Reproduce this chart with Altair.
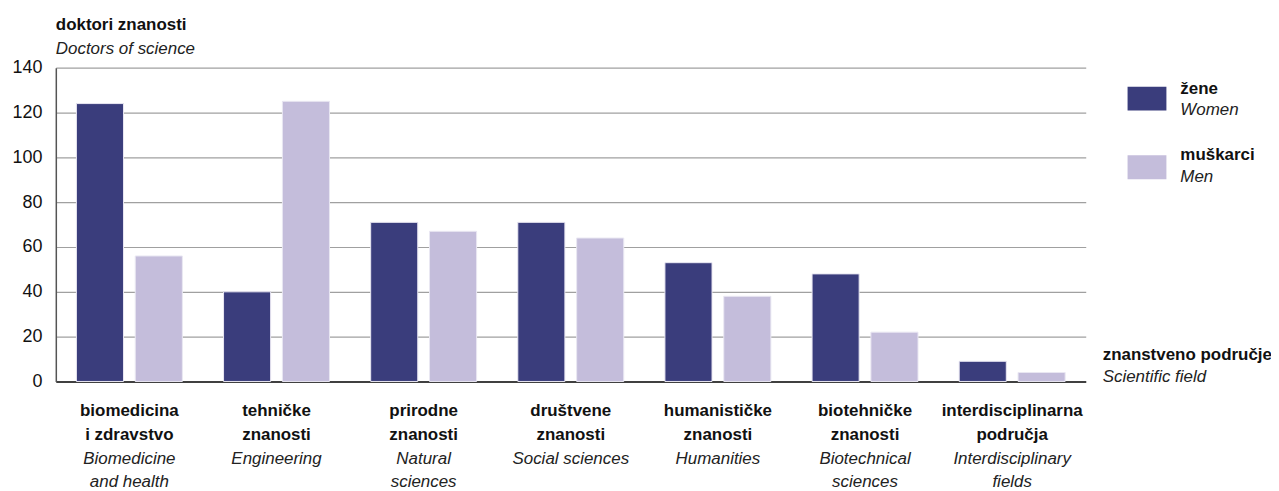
import altair as alt
import pandas as pd

fields_hr1 = ["biomedicina", "tehničke", "prirodne", "društvene", "humanističke", "biotehničke", "interdisciplinarna"]
fields_hr2 = ["i zdravstvo", "znanosti", "znanosti", "znanosti", "znanosti", "znanosti", "područja"]
fields_en1 = ["Biomedicine", "Engineering", "Natural", "Social sciences", "Humanities", "Biotechnical", "Interdisciplinary"]
fields_en2 = ["and health", "", "sciences", "", "", "sciences", "fields"]
women = [124, 40, 71, 71, 53, 48, 9]
men = [56, 125, 67, 64, 38, 22, 4]
series = ["žene", "muškarci"]
series_en = ["Women", "Men"]
colors = ["#3a3d7c", "#c4bddb"]
y_ticks = [0, 20, 40, 60, 80, 100, 120, 140]

keys = [a + " " + b for a, b in zip(fields_hr1, fields_hr2)]

rows = []
for i, k in enumerate(keys):
    rows.append({"field": k, "sex": series[0], "value": women[i]})
    rows.append({"field": k, "sex": series[1], "value": men[i]})
bars_df = pd.DataFrame(rows)

labels_df = pd.DataFrame({"field": keys, "l1": fields_hr1, "l2": fields_hr2, "l3": fields_en1, "l4": fields_en2})

FONT = "Liberation Sans, Arial, sans-serif"
FS = 17

xscale = alt.Scale(domain=keys, paddingInner=0.28, paddingOuter=0.14)

bars = alt.Chart(bars_df).mark_bar(stroke="#e9e7f2", strokeWidth=1).encode(
    x=alt.X("field:N", sort=keys, scale=xscale,
            axis=alt.Axis(labels=False, ticks=False, title=None, domainColor="#111", domainWidth=1.5)),
    xOffset=alt.XOffset("sex:N", sort=series, scale=alt.Scale(domain=series, paddingInner=0.2, paddingOuter=0)),
    y=alt.Y("value:Q", scale=alt.Scale(domain=[0, 140], nice=False),
            axis=alt.Axis(values=y_ticks, title=None, ticks=False, labelPadding=14, labelFontSize=18,
                          labelFont=FONT, labelColor="#111", grid=True, gridColor="#a0a0a0",
                          gridWidth=1.2, domainColor="#555", domainWidth=1.5)),
    color=alt.Color("sex:N", scale=alt.Scale(domain=series, range=colors), legend=None),
)

def cat_text(col, y, bold, italic):
    return alt.Chart(labels_df).mark_text(
        font=FONT, fontSize=FS, fontWeight="bold" if bold else "normal",
        fontStyle="italic" if italic else "normal", color="#111" if bold else "#222",
        baseline="middle", align="center"
    ).encode(x=alt.X("field:N", sort=keys, scale=xscale), y=alt.value(y), text=f"{col}:N")

one = pd.DataFrame({"a": [0]})

def free_text(txt, x, y, bold, italic, size=FS):
    return alt.Chart(one).mark_text(
        text=txt, font=FONT, fontSize=size, fontWeight="bold" if bold else "normal",
        fontStyle="italic" if italic else "normal", color="#111" if bold else "#222",
        align="left", baseline="middle"
    ).encode(x=alt.value(x), y=alt.value(y))

def swatch(color, x, y):
    return alt.Chart(one).mark_rect(color=color).encode(
        x=alt.value(x), x2=alt.value(x + 39), y=alt.value(y), y2=alt.value(y + 24))

L = 56  # plot left (absolute)
T = 67  # plot top (absolute)
layers = [bars]
layers += [cat_text("l1", 412 - T, True, False), cat_text("l2", 436 - T, True, False),
           cat_text("l3", 460 - T, False, True), cat_text("l4", 483 - T, False, True)]
layers += [free_text("doktori znanosti", 0, 24 - T, True, False),
           free_text("Doctors of science", 0, 48 - T, False, True)]
layers += [swatch(colors[0], 1132 - L, 86 - T), swatch(colors[1], 1132 - L, 155 - T)]
layers += [free_text(series[0], 1185 - L, 88 - T, True, False), free_text(series_en[0], 1185 - L, 109 - T, False, True),
           free_text(series[1], 1185 - L, 155 - T, True, False), free_text(series_en[1], 1185 - L, 177 - T, False, True)]
layers += [free_text("znanstveno područje", 1107 - L, 355 - T, True, False),
           free_text("Scientific field", 1107 - L, 378 - T, False, True)]

chart = alt.layer(*layers).properties(
    width=1034, height=315,
    autosize=alt.AutoSizeParams(type="none"),
    padding={"left": 48, "top": 59, "right": 186, "bottom": 109},
).configure_view(stroke=None)

chart.save("out.html", embed_options={"renderer": "svg", "actions": False})
